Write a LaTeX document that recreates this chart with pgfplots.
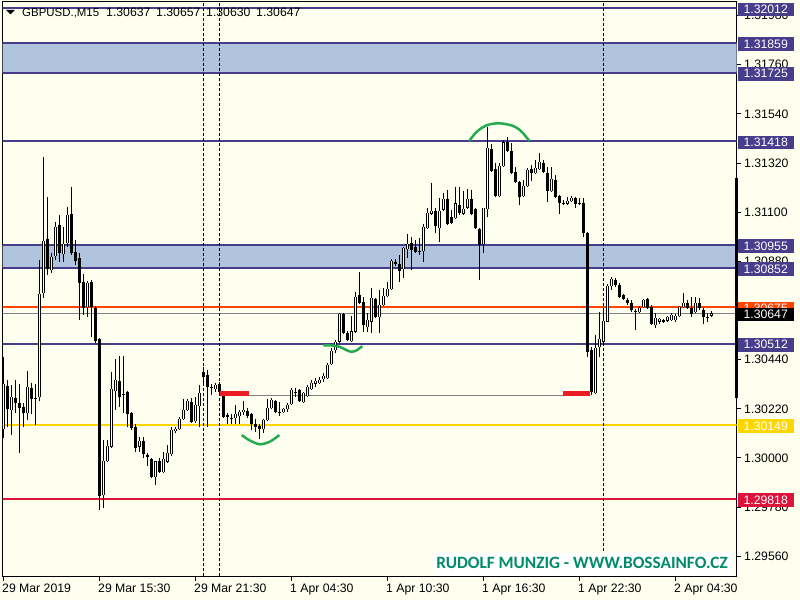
\documentclass[border=0pt]{standalone}
\usepackage{pgfplots}
\pgfplotsset{compat=1.18}
\usepackage{pgfplotstable}
\usepackage{fontspec}
\setmainfont{Liberation Sans}
\newfontfamily\wmfont{Carlito}
\definecolor{chartbg}{HTML}{FFFFF0}
\definecolor{dsb}{HTML}{483D8B}
\definecolor{lsb}{HTML}{B0C4DE}
\definecolor{ored}{HTML}{FF4500}
\definecolor{goldc}{HTML}{FFD700}
\definecolor{crim}{HTML}{DC143C}
\definecolor{arcg}{RGB}{36,170,80}
\definecolor{mkred}{RGB}{237,28,36}
\definecolor{wm}{RGB}{0,139,108}

\pgfplotstableread{
i o h l c
0 1.30130 1.30452 1.30089 1.30332
1 1.30323 1.30350 1.30139 1.30220
2 1.30215 1.30327 1.30103 1.30273
3 1.30269 1.30350 1.30202 1.30247
4 1.30247 1.30332 1.30023 1.30224
5 1.30229 1.30247 1.30139 1.30202
6 1.30202 1.30389 1.30170 1.30318
7 1.30314 1.30336 1.30197 1.30264
8 1.30269 1.30332 1.30148 1.30269
9 1.30273 1.30886 1.30255 1.30734
10 1.30739 1.31347 1.30716 1.30971
11 1.30980 1.31168 1.30819 1.30846
12 1.30842 1.30917 1.30828 1.30899
13 1.30904 1.31056 1.30886 1.31034
14 1.31043 1.31088 1.30878 1.30917
15 1.30913 1.31034 1.30878 1.30958
16 1.30962 1.31124 1.30944 1.31088
17 1.31093 1.31213 1.30908 1.30917
18 1.30922 1.30976 1.30864 1.30882
19 1.30895 1.30917 1.30618 1.30784
20 1.30788 1.30824 1.30640 1.30671
21 1.30676 1.30792 1.30631 1.30784
22 1.30788 1.30797 1.30542 1.30676
23 1.30671 1.30680 1.30515 1.30524
24 1.30533 1.30538 1.29768 1.29830
25 1.29834 1.30080 1.29777 1.29987
26 1.29987 1.30080 1.29983 1.30054
27 1.30050 1.30385 1.30045 1.30309
28 1.30300 1.30443 1.30215 1.30350
29 1.30345 1.30457 1.30229 1.30273
30 1.30287 1.30457 1.30202 1.30287
31 1.30296 1.30300 1.30139 1.30197
32 1.30202 1.30206 1.30125 1.30134
33 1.30139 1.30152 1.30027 1.30045
34 1.30050 1.30094 1.30027 1.30077
35 1.30077 1.30094 1.30000 1.30018
36 1.30014 1.30023 1.29965 1.30005
37 1.29996 1.30000 1.29911 1.29915
38 1.29915 1.29983 1.29879 1.29983
39 1.29987 1.30000 1.29933 1.29938
40 1.29938 1.30027 1.29933 1.29996
41 1.29983 1.30059 1.29978 1.30023
42 1.30018 1.30139 1.30010 1.30125
43 1.30121 1.30139 1.30112 1.30130
44 1.30130 1.30184 1.30125 1.30175
45 1.30175 1.30264 1.30170 1.30215
46 1.30215 1.30264 1.30211 1.30255
47 1.30251 1.30269 1.30157 1.30161
48 1.30166 1.30273 1.30157 1.30238
49 1.30233 1.30327 1.30139 1.30291
50 1.30385 1.30407 1.30336 1.30362
51 1.30371 1.30394 1.30139 1.30318
52 1.30318 1.30332 1.30282 1.30318
53 1.30309 1.30336 1.30296 1.30327
54 1.30332 1.30341 1.30291 1.30296
55 1.30282 1.30291 1.30179 1.30184
56 1.30193 1.30202 1.30152 1.30184
57 1.30179 1.30197 1.30152 1.30179
58 1.30179 1.30238 1.30152 1.30197
59 1.30188 1.30215 1.30152 1.30206
60 1.30206 1.30255 1.30193 1.30215
61 1.30211 1.30224 1.30179 1.30188
62 1.30197 1.30202 1.30125 1.30152
63 1.30152 1.30175 1.30116 1.30139
64 1.30143 1.30152 1.30085 1.30130
65 1.30130 1.30175 1.30112 1.30170
66 1.30170 1.30264 1.30166 1.30224
67 1.30224 1.30269 1.30220 1.30260
68 1.30255 1.30260 1.30202 1.30206
69 1.30206 1.30251 1.30188 1.30206
70 1.30206 1.30224 1.30202 1.30220
71 1.30220 1.30247 1.30206 1.30238
72 1.30242 1.30314 1.30238 1.30305
73 1.30296 1.30314 1.30273 1.30296
74 1.30305 1.30309 1.30251 1.30255
75 1.30251 1.30296 1.30247 1.30291
76 1.30278 1.30327 1.30273 1.30318
77 1.30309 1.30350 1.30305 1.30336
78 1.30332 1.30358 1.30318 1.30345
79 1.30336 1.30362 1.30332 1.30350
80 1.30353 1.30380 1.30341 1.30367
81 1.30358 1.30425 1.30353 1.30416
82 1.30421 1.30493 1.30416 1.30479
83 1.30484 1.30529 1.30470 1.30520
84 1.30520 1.30649 1.30515 1.30644
85 1.30644 1.30649 1.30556 1.30560
86 1.30560 1.30569 1.30524 1.30529
87 1.30524 1.30635 1.30520 1.30565
88 1.30565 1.30743 1.30560 1.30721
89 1.30730 1.30833 1.30689 1.30694
90 1.30698 1.30721 1.30565 1.30596
91 1.30587 1.30649 1.30565 1.30618
92 1.30610 1.30761 1.30560 1.30716
93 1.30712 1.30716 1.30626 1.30631
94 1.30631 1.30752 1.30560 1.30685
95 1.30685 1.30761 1.30680 1.30725
96 1.30725 1.30788 1.30721 1.30757
97 1.30757 1.30890 1.30752 1.30882
98 1.30878 1.30890 1.30860 1.30869
99 1.30869 1.30908 1.30788 1.30838
100 1.30846 1.30944 1.30806 1.30940
101 1.30935 1.31003 1.30895 1.30958
102 1.30962 1.30989 1.30842 1.30931
103 1.30944 1.30976 1.30917 1.30922
104 1.30926 1.30985 1.30908 1.30926
105 1.30926 1.31048 1.30878 1.31034
106 1.31030 1.31120 1.31025 1.31097
107 1.31093 1.31231 1.31088 1.31106
108 1.31106 1.31120 1.31007 1.31039
109 1.31030 1.31164 1.30967 1.31106
110 1.31111 1.31186 1.31106 1.31159
111 1.31159 1.31199 1.31043 1.31048
112 1.31079 1.31111 1.31048 1.31052
113 1.31075 1.31213 1.31070 1.31138
114 1.31133 1.31213 1.31088 1.31097
115 1.31093 1.31195 1.31088 1.31115
116 1.31120 1.31204 1.31115 1.31159
117 1.31156 1.31199 1.31088 1.31093
118 1.31115 1.31120 1.31025 1.31030
119 1.31025 1.31030 1.30797 1.30953
120 1.30958 1.31120 1.30917 1.31120
121 1.31115 1.31481 1.31079 1.31388
122 1.31384 1.31406 1.31280 1.31285
123 1.31294 1.31321 1.31168 1.31173
124 1.31173 1.31321 1.31168 1.31307
125 1.31307 1.31423 1.31303 1.31411
126 1.31411 1.31436 1.31370 1.31375
127 1.31375 1.31411 1.31271 1.31276
128 1.31280 1.31303 1.31231 1.31235
129 1.31235 1.31240 1.31133 1.31168
130 1.31173 1.31244 1.31168 1.31217
131 1.31217 1.31298 1.31213 1.31289
132 1.31294 1.31312 1.31240 1.31276
133 1.31276 1.31334 1.31271 1.31298
134 1.31294 1.31366 1.31289 1.31325
135 1.31321 1.31334 1.31276 1.31280
136 1.31276 1.31303 1.31147 1.31195
137 1.31195 1.31303 1.31190 1.31249
138 1.31244 1.31267 1.31164 1.31168
139 1.31173 1.31177 1.31093 1.31142
140 1.31138 1.31156 1.31133 1.31138
141 1.31138 1.31168 1.31133 1.31151
142 1.31151 1.31173 1.31147 1.31164
143 1.31164 1.31168 1.31120 1.31138
144 1.31138 1.31164 1.31133 1.31138
145 1.31142 1.31164 1.30989 1.31007
146 1.31007 1.31012 1.30452 1.30475
147 1.30484 1.30497 1.30282 1.30296
148 1.30291 1.30551 1.30287 1.30493
149 1.30497 1.30653 1.30452 1.30533
150 1.30520 1.30671 1.30506 1.30614
151 1.30610 1.30779 1.30610 1.30770
152 1.30770 1.30811 1.30752 1.30802
153 1.30797 1.30806 1.30766 1.30775
154 1.30775 1.30784 1.30716 1.30721
155 1.30730 1.30734 1.30707 1.30712
156 1.30707 1.30716 1.30685 1.30694
157 1.30694 1.30707 1.30653 1.30662
158 1.30658 1.30667 1.30574 1.30658
159 1.30653 1.30680 1.30649 1.30671
160 1.30676 1.30712 1.30671 1.30707
161 1.30712 1.30716 1.30667 1.30671
162 1.30676 1.30685 1.30596 1.30601
163 1.30596 1.30649 1.30583 1.30626
164 1.30610 1.30626 1.30601 1.30622
165 1.30618 1.30622 1.30605 1.30610
166 1.30614 1.30635 1.30610 1.30631
167 1.30618 1.30649 1.30614 1.30640
168 1.30618 1.30644 1.30610 1.30635
169 1.30635 1.30680 1.30631 1.30676
170 1.30676 1.30739 1.30671 1.30694
171 1.30694 1.30707 1.30667 1.30671
172 1.30671 1.30721 1.30631 1.30644
173 1.30653 1.30721 1.30649 1.30694
174 1.30694 1.30716 1.30662 1.30671
175 1.30662 1.30671 1.30601 1.30631
176 1.30631 1.30649 1.30610 1.30631
177 1.30637 1.30657 1.30630 1.30647
}\candles

\begin{document}
\begin{tikzpicture}[x=1bp,y=1bp]
\fill[chartbg] (0,0) rectangle (800,600);
\begin{axis}[
  at={(2.5bp,23bp)}, anchor=south west,
  width=734bp, height=575bp, scale only axis,
  xmin=-0.25, xmax=183.25, ymin=1.29467, ymax=1.32041,
  axis line style={black, line width=1bp},
  xtick={0,24,48,72,96,120,144,168},
  xticklabels={29 Mar 2019, 29 Mar 15:30, 29 Mar 21:30, 1 Apr 04:30, 1 Apr 10:30, 1 Apr 16:30, 1 Apr 22:30, 2 Apr 04:30},
  xtick pos=lower, ytick pos=upper, yticklabel pos=upper,
  tick align=outside, major tick length=4bp,
  tick style={black, line width=1bp},
  scaled y ticks=false,
  ytick={1.2956,1.2978,1.3,1.3022,1.3044,1.3066,1.3088,1.311,1.3132,1.3154,1.3176,1.3198},
  yticklabel style={/pgf/number format/.cd, fixed, fixed zerofill, precision=5, assume math mode=true, /tikz/.cd,
    anchor=west, inner sep=0pt, xshift=3.5bp, font=\fontsize{12.3}{12}\selectfont},
  xticklabel style={anchor=base west, inner sep=0pt, xshift=-1.5bp, yshift=-11.7bp, font=\fontsize{12.3}{12}\selectfont},
]
% zones
\addplot[fill=lsb, draw=none, forget plot] coordinates {(-1,1.31725) (185,1.31725) (185,1.31859) (-1,1.31859)};
\addplot[fill=lsb, draw=none, forget plot] coordinates {(-1,1.30852) (185,1.30852) (185,1.30955) (-1,1.30955)};
% level lines
\addplot[dsb, line width=2bp] coordinates {(-1,1.32012) (185,1.32012)};
\addplot[dsb, line width=2bp] coordinates {(-1,1.31859) (185,1.31859)};
\addplot[dsb, line width=2bp] coordinates {(-1,1.31725) (185,1.31725)};
\addplot[dsb, line width=2bp] coordinates {(-1,1.31418) (185,1.31418)};
\addplot[dsb, line width=2bp] coordinates {(-1,1.30955) (185,1.30955)};
\addplot[dsb, line width=2bp] coordinates {(-1,1.30852) (185,1.30852)};
\addplot[ored, line width=1.5bp] coordinates {(-1,1.30675) (185,1.30675)};
\addplot[gray, line width=1.2bp] coordinates {(-1,1.30647) (185,1.30647)};
\addplot[dsb, line width=2bp] coordinates {(-1,1.30512) (185,1.30512)};
\addplot[goldc, line width=2bp] coordinates {(-1,1.30149) (185,1.30149)};
\addplot[crim, line width=2bp] coordinates {(-1,1.29818) (185,1.29818)};
% vertical dashed lines
\addplot[black, line width=1bp, dash pattern=on 3bp off 2bp] coordinates {(49.95,1.29) (49.95,1.33)};
\addplot[black, line width=1bp, dash pattern=on 3bp off 2bp] coordinates {(53.95,1.29) (53.95,1.33)};
\addplot[black, line width=1bp, dash pattern=on 3bp off 2bp] coordinates {(149.95,1.29) (149.95,1.33)};
% gray trend level
\addplot[gray, line width=1bp] coordinates {(54.1,1.30281) (146.6,1.30281)};
% candles: wicks
\addplot[draw=none, mark=none, forget plot,
  error bars/.cd, y dir=plus, y explicit, error mark=none,
  error bar style={draw=black, line width=1.1bp}]
  table[x=i, y=l, y error plus expr={\thisrow{h}-\thisrow{l}}] {\candles};
% bodies
\addplot[draw=none, mark=none, forget plot,
  error bars/.cd, y dir=plus, y explicit, error mark=none,
  error bar style={draw=black, line width=3bp}]
  table[x=i, y expr={min(\thisrow{o},\thisrow{c})-0.00001}, y error plus expr={abs(\thisrow{c}-\thisrow{o})+0.00002}] {\candles};
\addplot[draw=none, mark=none, forget plot,
  error bars/.cd, y dir=plus, y explicit, error mark=none,
  error bar style={draw=white, line width=1bp}]
  table[x=i, y expr={\thisrow{o}+0.000012}, y error plus expr={max(\thisrow{c}-\thisrow{o}-0.000024,0)}] {\candles};
% red markers
\addplot[mkred, line width=5bp] coordinates {(54.1,1.30289) (61.4,1.30289)};
\addplot[mkred, line width=5bp] coordinates {(139.9,1.30289) (146.6,1.30289)};
% green arcs
\addplot[arcg, line width=2.5bp, smooth] coordinates {(59.55,1.30102) (61.6,1.30078) (64.1,1.30061) (66.6,1.30073) (68.95,1.30102)};
\addplot[arcg, line width=2.5bp, smooth] coordinates {(79.95,1.30504) (82.4,1.30503) (84.1,1.30497) (85.8,1.30482) (87.05,1.30475) (88.3,1.30482) (89.7,1.30500)};
\addplot[arcg, line width=2.5bp, smooth] coordinates {(116.45,1.31419) (118.3,1.31460) (120.8,1.31489) (123.9,1.31498) (127.45,1.31486) (129.55,1.31460) (131.45,1.31419)};
% anchors for labels
\coordinate (L1) at (axis cs:183.25,1.32012);
\coordinate (L2) at (axis cs:183.25,1.31859);
\coordinate (L3) at (axis cs:183.25,1.31725);
\coordinate (L4) at (axis cs:183.25,1.31418);
\coordinate (L5) at (axis cs:183.25,1.30955);
\coordinate (L6) at (axis cs:183.25,1.30852);
\coordinate (L7) at (axis cs:183.25,1.30675);
\coordinate (L8) at (axis cs:183.25,1.30647);
\coordinate (L9) at (axis cs:183.25,1.30512);
\coordinate (L10) at (axis cs:183.25,1.30149);
\coordinate (L11) at (axis cs:183.25,1.29818);
\coordinate (RB1) at (axis cs:183.25,1.31253);
\coordinate (RB2) at (axis cs:183.25,1.30269);
\end{axis}
\draw[black, line width=3bp] (RB1) -- (RB2);
\tikzset{lbl/.style={anchor=west, minimum width=56bp, minimum height=13.5bp, inner sep=0pt, text=white, font=\fontsize{12.3}{12}\selectfont, xshift=1bp, yshift=-1.2bp}}
\node[lbl, fill=dsb] at (L1) {1.32012};
\node[lbl, fill=dsb] at (L2) {1.31859};
\node[lbl, fill=dsb] at (L3) {1.31725};
\node[lbl, fill=dsb] at (L4) {1.31418};
\node[lbl, fill=dsb] at (L5) {1.30955};
\node[lbl, fill=dsb] at (L6) {1.30852};
\node[lbl, fill=ored] at (L7) {1.30675};
\node[lbl, fill=black] at (L8) {1.30647};
\node[lbl, fill=dsb] at (L9) {1.30512};
\node[lbl, fill=goldc] at (L10) {1.30149};
\node[lbl, fill=crim] at (L11) {1.29818};
% header
\fill[black] (6,590) -- (15,590) -- (10.5,585.5) -- cycle;
\node[anchor=base west, inner sep=0pt, font=\fontsize{11.5}{12}\selectfont] at (22,583) {GBPUSD.,M15};
\node[anchor=base west, inner sep=0pt, font=\fontsize{12.3}{12}\selectfont] at (106,583) {1.30637};
\node[anchor=base west, inner sep=0pt, font=\fontsize{12.3}{12}\selectfont] at (156,583) {1.30657};
\node[anchor=base west, inner sep=0pt, font=\fontsize{12.3}{12}\selectfont] at (206,583) {1.30630};
\node[anchor=base west, inner sep=0pt, font=\fontsize{12.3}{12}\selectfont] at (256,583) {1.30647};
% watermark
\fill[white] (433,24) rectangle (731,47);
\node[anchor=base east, inner sep=0pt, text=wm, font=\wmfont\bfseries\fontsize{17.3}{17}\selectfont] at (728,31) {RUDOLF MUNZIG - WWW.BOSSAINFO.CZ};
\pgfresetboundingbox
\useasboundingbox (0,0) rectangle (800,600);
\end{tikzpicture}
\end{document}
